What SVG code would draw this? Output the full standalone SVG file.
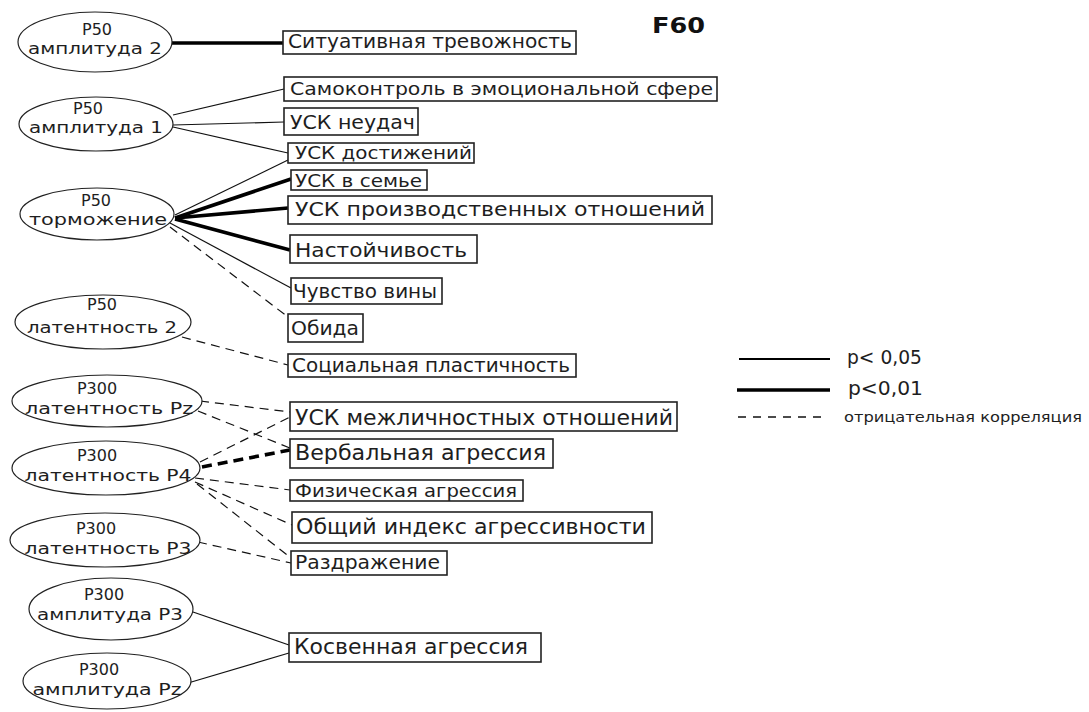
<svg xmlns="http://www.w3.org/2000/svg" width="1089" height="712" viewBox="0 0 1089 712">
<style>
.bg{fill:#ffffff}
.ell{fill:#ffffff;stroke:#222;stroke-width:1.2}
.box{fill:#ffffff;stroke:#222;stroke-width:1.6}
.et{font-family:"DejaVu Sans",sans-serif;font-size:16px;fill:#1e1e1e;text-anchor:middle}
.bt{font-family:"DejaVu Sans",sans-serif;fill:#1e1e1e}
.thin{stroke:#111;stroke-width:1.2;fill:none}
.thick{stroke:#000;stroke-width:3.6;fill:none}
.dash{stroke:#111;stroke-width:1.2;fill:none;stroke-dasharray:9 6}
.tdash{stroke:#000;stroke-width:3.6;fill:none;stroke-dasharray:10 6}
</style>
<rect class="bg" x="0" y="0" width="1089" height="712"/>
<g id="connectors">
<line class="thick" x1="172" y1="43" x2="283" y2="43"/>
<line class="thin" x1="173" y1="115" x2="284" y2="89"/>
<line class="thin" x1="173" y1="125" x2="284" y2="122"/>
<line class="thin" x1="173" y1="127" x2="288" y2="153"/>
<line class="thin" x1="175" y1="215" x2="288" y2="160"/>
<line class="thick" x1="175" y1="218" x2="291" y2="179"/>
<line class="thick" x1="175" y1="218" x2="288" y2="208"/>
<line class="thick" x1="175" y1="219" x2="290" y2="250"/>
<line class="thin" x1="170" y1="223" x2="291" y2="288"/>
<line class="dash" x1="170" y1="227" x2="288" y2="317"/>
<line class="dash" x1="182" y1="337" x2="288" y2="365"/>
<line class="dash" x1="200" y1="401" x2="290" y2="412"/>
<line class="dash" x1="198" y1="411" x2="290" y2="448"/>
<line class="dash" x1="200" y1="462" x2="290" y2="417"/>
<line class="tdash" x1="202" y1="467" x2="290" y2="450"/>
<line class="dash" x1="195" y1="478" x2="290" y2="490"/>
<line class="dash" x1="195" y1="482" x2="292" y2="525"/>
<line class="dash" x1="197" y1="484" x2="291" y2="558"/>
<line class="dash" x1="198" y1="542" x2="291" y2="563"/>
<line class="thin" x1="193" y1="612" x2="289" y2="645"/>
<line class="thin" x1="188" y1="683" x2="289" y2="653"/>
</g>
<g id="n-amp2">
<ellipse class="ell" cx="95" cy="42" rx="77" ry="30"/>
<text class="et" x="97" y="35">P50</text>
<text class="et" x="95" y="54" textLength="134" lengthAdjust="spacingAndGlyphs">амплитуда 2</text>
</g>
<g id="n-amp1">
<ellipse class="ell" cx="96" cy="124" rx="77" ry="27"/>
<text class="et" x="88" y="114">P50</text>
<text class="et" x="96" y="133" textLength="134" lengthAdjust="spacingAndGlyphs">амплитуда 1</text>
</g>
<g id="n-torm">
<ellipse class="ell" cx="97" cy="214" rx="77" ry="26"/>
<text class="et" x="96" y="206">P50</text>
<text class="et" x="98" y="225" textLength="138" lengthAdjust="spacingAndGlyphs">торможение</text>
</g>
<g id="n-lat2">
<ellipse class="ell" cx="103" cy="322" rx="88" ry="27"/>
<text class="et" x="102" y="310">P50</text>
<text class="et" x="102" y="333" textLength="150" lengthAdjust="spacingAndGlyphs">латентность 2</text>
</g>
<g id="n-latPz">
<ellipse class="ell" cx="107" cy="401" rx="95" ry="26"/>
<text class="et" x="97" y="394">P300</text>
<text class="et" x="109" y="414" textLength="168" lengthAdjust="spacingAndGlyphs">латентность Pz</text>
</g>
<g id="n-latP4">
<ellipse class="ell" cx="106" cy="468" rx="94" ry="27"/>
<text class="et" x="97" y="461">P300</text>
<text class="et" x="108" y="481" textLength="167" lengthAdjust="spacingAndGlyphs">латентность P4</text>
</g>
<g id="n-latP3">
<ellipse class="ell" cx="105" cy="540" rx="95" ry="27"/>
<text class="et" x="96" y="534">P300</text>
<text class="et" x="108" y="554" textLength="167" lengthAdjust="spacingAndGlyphs">латентность P3</text>
</g>
<g id="n-ampP3">
<ellipse class="ell" cx="111" cy="609" rx="82" ry="31"/>
<text class="et" x="104" y="600">P300</text>
<text class="et" x="110" y="620" textLength="146" lengthAdjust="spacingAndGlyphs">амплитуда P3</text>
</g>
<g id="n-ampPz">
<ellipse class="ell" cx="107" cy="681" rx="84" ry="28"/>
<text class="et" x="99" y="675">P300</text>
<text class="et" x="107" y="695" textLength="149" lengthAdjust="spacingAndGlyphs">амплитуда Pz</text>
</g>
<g id="b-sit">
<rect class="box" x="283" y="31" width="293" height="23"/>
<text class="bt" x="288" y="48" font-size="19" textLength="284" lengthAdjust="spacingAndGlyphs">Ситуативная  тревожность</text>
</g>
<g id="b-samo">
<rect class="box" x="284" y="77" width="433" height="24"/>
<text class="bt" x="290" y="95" font-size="18" textLength="423" lengthAdjust="spacingAndGlyphs">Самоконтроль в эмоциональной сфере</text>
</g>
<g id="b-neud">
<rect class="box" x="284" y="108" width="134" height="27"/>
<text class="bt" x="290" y="129" font-size="20" textLength="125" lengthAdjust="spacingAndGlyphs">УСК неудач</text>
</g>
<g id="b-dost">
<rect class="box" x="288" y="143" width="186" height="20"/>
<text class="bt" x="295" y="159" font-size="18" textLength="177" lengthAdjust="spacingAndGlyphs">УСК достижений</text>
</g>
<g id="b-sem">
<rect class="box" x="291" y="170" width="136" height="20"/>
<text class="bt" x="295" y="187" font-size="18" textLength="127" lengthAdjust="spacingAndGlyphs">УСК в семье</text>
</g>
<g id="b-proizv">
<rect class="box" x="288" y="196" width="424" height="28"/>
<text class="bt" x="295" y="216" font-size="20" textLength="410" lengthAdjust="spacingAndGlyphs">УСК производственных отношений</text>
</g>
<g id="b-nast">
<rect class="box" x="290" y="235" width="187" height="28"/>
<text class="bt" x="295" y="257" font-size="20" textLength="172" lengthAdjust="spacingAndGlyphs">Настойчивость</text>
</g>
<g id="b-vina">
<rect class="box" x="291" y="278" width="151" height="26"/>
<text class="bt" x="293" y="298" font-size="19" textLength="144" lengthAdjust="spacingAndGlyphs">Чувство вины</text>
</g>
<g id="b-obida">
<rect class="box" x="288" y="314" width="75" height="28"/>
<text class="bt" x="291" y="335" font-size="20" textLength="68" lengthAdjust="spacingAndGlyphs">Обида</text>
</g>
<g id="b-soc">
<rect class="box" x="288" y="354" width="288" height="23"/>
<text class="bt" x="292" y="372" font-size="19" textLength="278" lengthAdjust="spacingAndGlyphs">Социальная пластичность</text>
</g>
<g id="b-mezh">
<rect class="box" x="290" y="402" width="387" height="29"/>
<text class="bt" x="295" y="425" font-size="21" textLength="378" lengthAdjust="spacingAndGlyphs">УСК межличностных отношений</text>
</g>
<g id="b-verb">
<rect class="box" x="290" y="439" width="263" height="29"/>
<text class="bt" x="295" y="460" font-size="21" textLength="251" lengthAdjust="spacingAndGlyphs">Вербальная агрессия</text>
</g>
<g id="b-fiz">
<rect class="box" x="290" y="480" width="233" height="21"/>
<text class="bt" x="295" y="497" font-size="18" textLength="222" lengthAdjust="spacingAndGlyphs">Физическая агрессия</text>
</g>
<g id="b-obsh">
<rect class="box" x="292" y="512" width="360" height="31"/>
<text class="bt" x="296" y="534" font-size="22" textLength="350" lengthAdjust="spacingAndGlyphs">Общий индекс агрессивности</text>
</g>
<g id="b-razd">
<rect class="box" x="291" y="551" width="156" height="24"/>
<text class="bt" x="295" y="569" font-size="19" textLength="145" lengthAdjust="spacingAndGlyphs">Раздражение</text>
</g>
<g id="b-kosv">
<rect class="box" x="289" y="633" width="252" height="29"/>
<text class="bt" x="294" y="654" font-size="21" textLength="234" lengthAdjust="spacingAndGlyphs">Косвенная агрессия</text>
</g>
<g id="title">
<text x="652" y="33" font-family="DejaVu Sans,sans-serif" font-weight="bold" font-size="22" fill="#111" textLength="53" lengthAdjust="spacingAndGlyphs">F60</text>
</g>
<g id="legend">
<line x1="739" y1="359" x2="830" y2="359" stroke="#000" stroke-width="1.8"/>
<text class="bt" x="847" y="364" font-size="19" textLength="75" lengthAdjust="spacingAndGlyphs">p&lt; 0,05</text>
<line x1="737" y1="390" x2="830" y2="390" stroke="#000" stroke-width="3.6"/>
<text class="bt" x="848" y="395" font-size="19" textLength="75" lengthAdjust="spacingAndGlyphs">p&lt;0,01</text>
<line x1="738" y1="417" x2="828" y2="417" stroke="#111" stroke-width="1.6" stroke-dasharray="8 7"/>
<text class="bt" x="844" y="422" font-size="14" textLength="238" lengthAdjust="spacingAndGlyphs">отрицательная  корреляция</text>
</g>
</svg>
